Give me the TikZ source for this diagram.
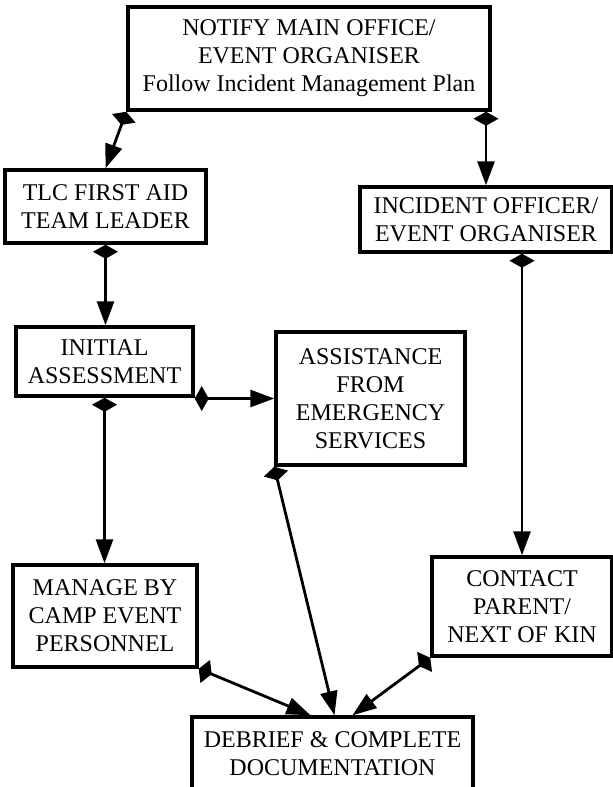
\documentclass[tikz,border=0pt]{standalone}
\usepackage{fontspec}
\setmainfont{Liberation Serif}
\usetikzlibrary{arrows.meta,calc}
\tikzset{
  box/.style={draw=black, line width=3.5pt, fill=white, inner sep=0pt, align=center,
    font=\fontsize{24}{28}\selectfont},
  conn/.style={line width=2.8pt, {Diamond[length=14pt,width=25pt]}-{Triangle[length=24pt,width=17pt]}}
}
\begin{document}
\begin{tikzpicture}[x=1pt,y=-1pt]
\useasboundingbox (0,0) rectangle (613,787);
\clip (0,0) rectangle (613,787);
\fill[white] (0,0) rectangle (613,787);
\node[box, minimum width=362pt, minimum height=103pt] (top) at (309,58.5)
  {NOTIFY MAIN OFFICE/\\EVENT ORGANISER\\Follow Incident Management Plan};
\node[box, minimum width=201pt, minimum height=73pt] (tlc) at (105.5,206.5)
  {TLC FIRST AID\\TEAM LEADER};
\node[box, minimum width=252pt, minimum height=65pt] (inc) at (486,219.5)
  {INCIDENT OFFICER/\\EVENT ORGANISER};
\node[box, minimum width=177pt, minimum height=69pt] (init) at (104.5,361.5)
  {INITIAL\\ASSESSMENT};
\node[box, minimum width=189pt, minimum height=133pt] (asst) at (370.5,398.5)
  {ASSISTANCE\\FROM\\EMERGENCY\\SERVICES};
\node[box, minimum width=184pt, minimum height=102pt] (manage) at (105,616)
  {MANAGE BY\\CAMP EVENT\\PERSONNEL};
\node[box, minimum width=180pt, minimum height=99pt] (contact) at (522,606.5)
  {CONTACT\\PARENT/\\NEXT OF KIN};
\node[box, minimum width=281pt, minimum height=73pt] (debrief) at (332.5,753.5)
  {DEBRIEF \& COMPLETE\\DOCUMENTATION};

\draw[conn] (top.south west) -- (tlc.north);
\draw[conn] (inc.north |- top.south) -- (inc.north);
\draw[conn] (tlc.south) -- (tlc.south |- init.north);
\draw[conn] (init.south) -- (init.south |- manage.north);
\draw[conn] (init.east |- asst.west) -- (asst.west);
\draw[conn] (contact.north |- inc.south) -- (contact.north);
\draw[conn] (asst.south west) -- ([xshift=2pt]debrief.north);
\draw[conn] (manage.south east) -- ([xshift=-22pt]debrief.north);
\draw[conn] (contact.south west) -- ([xshift=20pt]debrief.north);
\end{tikzpicture}
\end{document}
